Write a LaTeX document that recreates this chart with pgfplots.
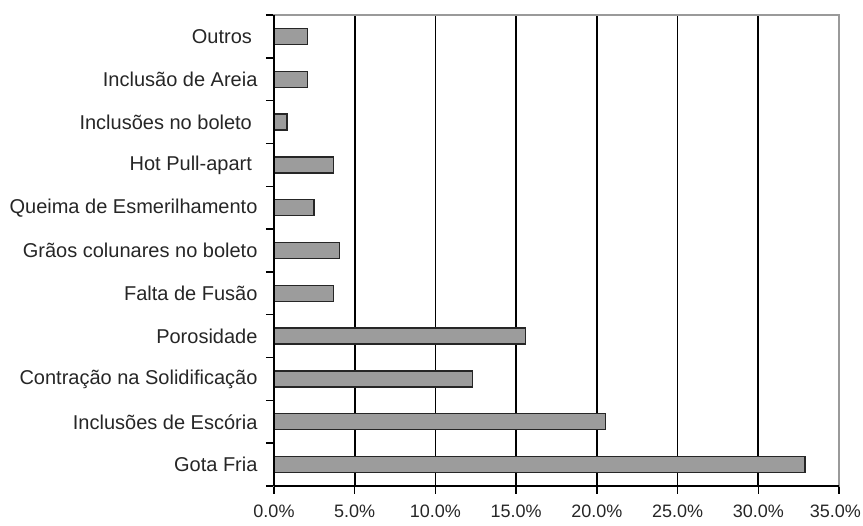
\documentclass[border=0pt]{standalone}
\usepackage{pgfplots}
\pgfplotsset{compat=1.18}
\usepackage{fontspec}
\setmainfont{Liberation Sans}
\definecolor{barfill}{HTML}{9C9C9C}
\definecolor{framegray}{HTML}{9A9A9A}

\begin{document}
\begin{tikzpicture}
  \useasboundingbox (0,0) rectangle (863pt,526pt);
  \begin{axis}[
    at={(274pt,40pt)}, anchor=south west,
    scale only axis, width=565pt, height=471pt,
    xbar, bar width=16pt,
    xmin=0, xmax=35, ymin=-0.5, ymax=10.5,
    xtick={0,5,...,35},
    xticklabels={0.0\%,5.0\%,10.0\%,15.0\%,20.0\%,25.0\%,30.0\%,\makebox[44pt][r]{35.0\%}},
    ytick={0,...,10},
    yticklabels={Gota Fria,Inclusões de Escória,Contração na Solidificação,Porosidade,Falta de Fusão,Grãos colunares no boleto,Queima de Esmerilhamento,Hot Pull-apart\ \ ,Inclusões no boleto\ \ ,Inclusão de Areia,Outros\ \ },
    minor ytick={-0.5,0.5,...,10.5},
    xtick pos=bottom, ytick pos=left,
    tick align=outside,
    major tick length=8pt, minor tick length=8pt,
    major y tick style={draw=none},
    minor y tick style={black, line width=1.5pt},
    major x tick style={black, line width=1.5pt},
    xmajorgrids,
    major grid style={black, line width=1.8pt},
    axis line style={framegray, line width=1.5pt},
    xticklabel style={font=\fontsize{18}{20}\selectfont, text=black!85, yshift=-7pt},
    yticklabel style={font=\fontsize{20}{22}\selectfont, text=black!85, xshift=-5pt},
    after end axis/.code={
      \draw[framegray, line width=1.5pt] (rel axis cs:1,0) -- (rel axis cs:1,1);
      \draw[black, line width=1.5pt] (rel axis cs:0,0) -- (rel axis cs:0,1);
      \draw[black, line width=1.5pt] (rel axis cs:0,0) -- (rel axis cs:1,0);
    },
  ]
    \addplot[fill=barfill, draw=black!85, line width=1.3pt] coordinates {
      (32.9,0) (20.55,1) (12.3,2) (15.6,3) (3.67,4) (4.05,5)
      (2.48,6) (3.67,7) (0.8,8) (2.07,9) (2.07,10)
    };
  \end{axis}
\end{tikzpicture}
\end{document}
